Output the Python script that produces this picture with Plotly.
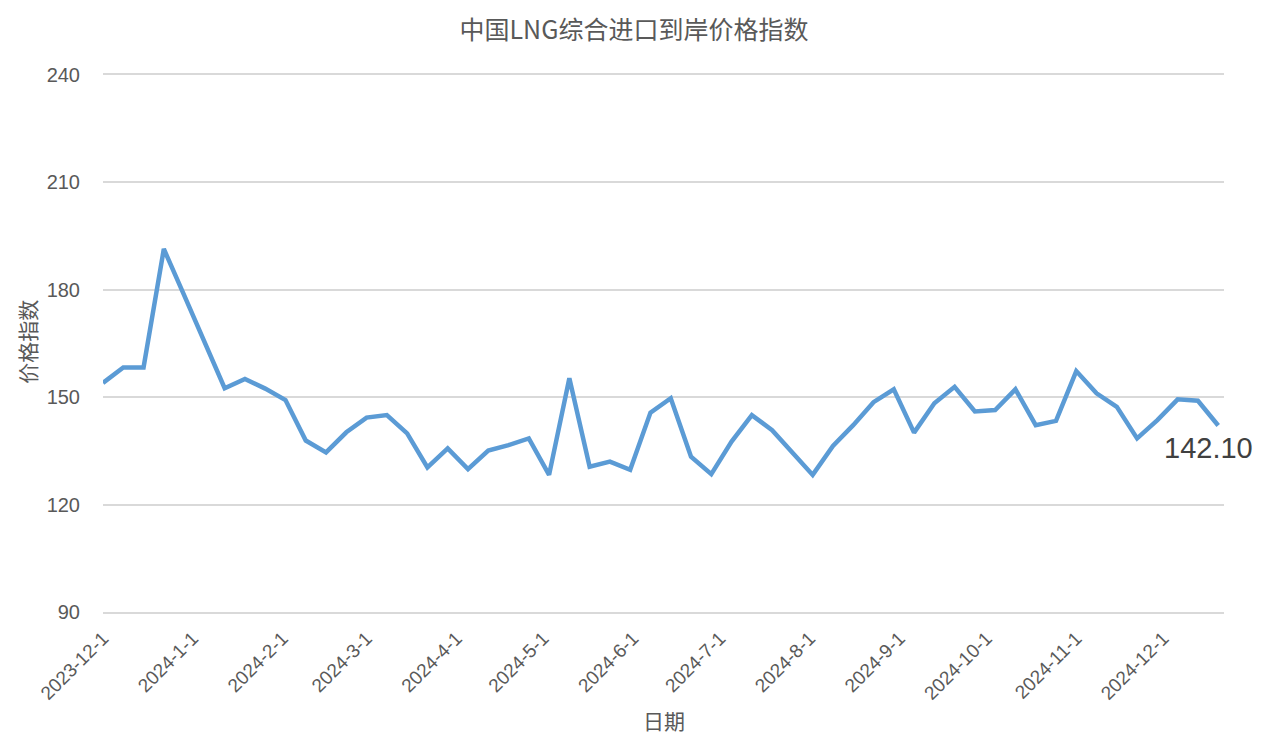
import plotly.graph_objects as go

# weekly dates (Fridays)
dates = [
    "2023-12-01", "2023-12-08", "2023-12-15", "2023-12-22", "2023-12-29",
    "2024-01-05", "2024-01-12", "2024-01-19", "2024-01-26",
    "2024-02-02", "2024-02-09", "2024-02-16", "2024-02-23",
    "2024-03-01", "2024-03-08", "2024-03-15", "2024-03-22", "2024-03-29",
    "2024-04-05", "2024-04-12", "2024-04-19", "2024-04-26",
    "2024-05-03", "2024-05-10", "2024-05-17", "2024-05-24", "2024-05-31",
    "2024-06-07", "2024-06-14", "2024-06-21", "2024-06-28",
    "2024-07-05", "2024-07-12", "2024-07-19", "2024-07-26",
    "2024-08-02", "2024-08-09", "2024-08-16", "2024-08-23", "2024-08-30",
    "2024-09-06", "2024-09-13", "2024-09-20", "2024-09-27",
    "2024-10-04", "2024-10-11", "2024-10-18", "2024-10-25",
    "2024-11-01", "2024-11-08", "2024-11-15", "2024-11-22", "2024-11-29",
    "2024-12-06", "2024-12-13", "2024-12-20",
]

index_values = [
    154.0, 158.3, 158.3, 191.4, 178.5, 165.5, 152.5, 155.1, 152.4, 149.2,
    137.9, 134.6, 140.2, 144.3, 145.0, 139.9, 130.4, 135.7, 129.9, 135.1,
    136.6, 138.5, 128.3, 155.3, 130.6, 132.0, 129.7, 145.7, 149.7, 133.4,
    128.5, 137.6, 145.0, 140.8, 134.5, 128.3, 136.4, 142.2, 148.6, 152.2,
    140.1, 148.3, 152.9, 146.0, 146.4, 152.2, 142.2, 143.4, 157.3, 151.1,
    147.3, 138.5, 143.6, 149.4, 149.0, 142.1,
]

tick_dates = [
    "2023-12-01", "2024-01-01", "2024-02-01", "2024-03-01", "2024-04-01",
    "2024-05-01", "2024-06-01", "2024-07-01", "2024-08-01", "2024-09-01",
    "2024-10-01", "2024-11-01", "2024-12-01",
]
tick_labels = [
    "2023-12-1", "2024-1-1", "2024-2-1", "2024-3-1", "2024-4-1",
    "2024-5-1", "2024-6-1", "2024-7-1", "2024-8-1", "2024-9-1",
    "2024-10-1", "2024-11-1", "2024-12-1",
]

y_ticks = [90, 120, 150, 180, 210, 240]

grey = "#595959"
cjk = "Noto Sans CJK SC"
latin = "Liberation Sans, Arial"

# page body has an 8px margin, so the figure is sized to fit the window
W, H = 1260, 737

fig = go.Figure()
fig.add_trace(go.Scatter(
    x=dates, y=index_values, mode="lines",
    line=dict(color="#5b9bd5", width=4.5),
    showlegend=False,
))

# last value label
fig.add_annotation(
    x=dates[-1], y=index_values[-1], text=f"{index_values[-1]:.2f}",
    showarrow=False, xanchor="center", yanchor="top", yshift=-5, xshift=-10,
    font=dict(family=latin, size=29, color="#404040"),
)

# axis titles
fig.add_annotation(
    xref="paper", yref="paper", x=0.5004, y=-0.201, text="日期",
    showarrow=False, xanchor="center", yanchor="middle",
    font=dict(family=cjk, size=21, color=grey),
)
fig.add_annotation(
    xref="paper", yref="paper", x=-0.068, y=0.503, text="价格指数",
    showarrow=False, textangle=-90, xanchor="center", yanchor="middle",
    font=dict(family=cjk, size=21, color=grey),
)

fig.update_layout(
    width=W, height=H,
    margin=dict(l=95, r=44, t=67, b=133),
    paper_bgcolor="white", plot_bgcolor="white",
    title=dict(
        text="中国LNG综合进口到岸价格指数",
        x=(634 - 8) / W, xref="container", xanchor="center",
        y=1 - 22 / H, yref="container", yanchor="middle",
        font=dict(family=cjk, size=25, color=grey),
    ),
    xaxis=dict(
        type="date",
        range=["2023-12-01", "2024-12-22"],
        tickvals=tick_dates, ticktext=tick_labels,
        tickangle=-45,
        ticks="outside", ticklen=6, tickcolor="rgba(0,0,0,0)",
        tickfont=dict(family=latin, size=19, color=grey),
        showgrid=False, zeroline=False,
        showline=True, linecolor="#d9d9d9", linewidth=1.5, mirror=True,
    ),
    yaxis=dict(
        range=[90, 240],
        tickvals=y_ticks,
        ticks="outside", ticklen=18, tickcolor="rgba(0,0,0,0)",
        tickfont=dict(family=latin, size=20, color=grey),
        showgrid=True, gridcolor="#d9d9d9", gridwidth=1.5,
        zeroline=False, showline=False,
    ),
)

fig.write_html("out.html")
